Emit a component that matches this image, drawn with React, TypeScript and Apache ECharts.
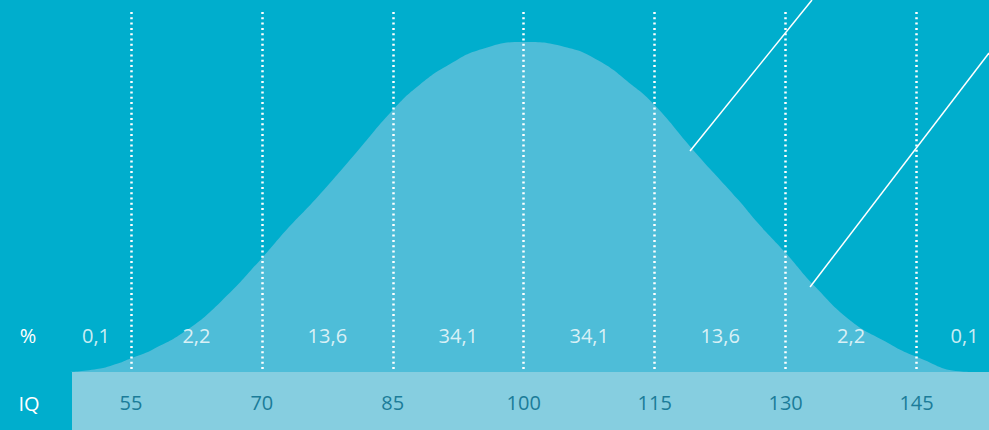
import React, { useEffect, useRef } from "react";
import * as echarts from "echarts";

// IQ scale ticks (dotted guide lines + labels in the strip)
const iqTicks = [55, 70, 85, 100, 115, 130, 145];

// Percentage row
const pctLabels = ["0,1", "2,2", "13,6", "34,1", "34,1", "13,6", "2,2", "0,1"];
const pctPositions = [51, 62.5, 77.5, 92.5, 107.5, 122.5, 137.5, 150.5];
const pctRowLevel = 11;

// Bell curve: IQ vs relative height (peak = 100)
const curveIQ = [
  47.9, 51.1, 53.5, 55, 57.4, 61.4, 65.3, 70, 72.8, 76.4, 80.4, 85, 88.05,
  91.65, 95.25, 100, 104.6, 108.5, 112.4, 115, 119.6, 124.6, 126.8, 130, 133.4,
  137.6, 141.1, 145, 150.4, 152,
];
const curveHeight = [
  0, 0.9, 2.6, 4.2, 6.7, 12.7, 21.3, 34.5, 43.0, 53.1, 65.2, 79.4, 87.0, 93.5,
  97.9, 100, 98.6, 94.5, 87.0, 80.9, 66.7, 52.1, 45.2, 36.1, 25.8, 15.2, 9.7,
  4.6, 0.1, 0,
];

// Top of the dotted guide lines
const guideTop = 109.1;

// Decorative diagonal lines (start / end in IQ and height units)
const diag1IQ = [119.05, 133.02];
const diag1Height = [66.97, 112.73];
const diag2IQ = [132.8, 153.3];
const diag2Height = [25.76, 96.67];

const X_MIN = 40;
const X_MAX = 153.3;
const Y_MAX = 112.73;

const BG = "#00AECD";
const CURVE = "#4EBDD8";
const STRIP = "#86CEE0";
const TICK_TEXT = "#1B7C99";
const FONT = "'Open Sans', 'Noto Sans', sans-serif";

export default function App() {
  const ref = useRef<HTMLDivElement>(null);

  useEffect(() => {
    if (!ref.current) return;
    const chart = echarts.init(ref.current, undefined, { renderer: "svg" });

    const curveData = curveIQ.map((x, i) => [x, curveHeight[i]]);
    const pctData = pctPositions.map((x) => [x, pctRowLevel]);

    chart.setOption({
      animation: false,
      backgroundColor: BG,
      grid: { left: 0, right: 0, top: 0, bottom: 58, containLabel: false },
      xAxis: {
        type: "value",
        min: X_MIN,
        max: X_MAX,
        z: 5,
        axisLine: { show: false },
        axisTick: { show: false },
        splitLine: { show: false },
        axisLabel: {
          customValues: iqTicks,
          color: TICK_TEXT,
          fontSize: 20,
          fontFamily: FONT,
          verticalAlign: "middle",
          margin: 30,
          showMinLabel: true,
          showMaxLabel: true,
        },
      },
      yAxis: {
        type: "value",
        min: 0,
        max: Y_MAX,
        show: false,
      },
      graphic: [
        {
          type: "rect",
          left: 72,
          top: 372,
          z: -10,
          shape: { width: 917, height: 58 },
          style: { fill: STRIP },
          silent: true,
        },
        {
          type: "text",
          x: 29,
          y: 403,
          z: 10,
          style: {
            text: "IQ",
            fill: "#ffffff",
            font: `20px ${FONT}`,
            align: "center",
            verticalAlign: "middle",
          },
        },
        {
          type: "text",
          x: 28,
          y: 335.5,
          z: 10,
          style: {
            text: "%",
            fill: "#ffffff",
            font: `20px ${FONT}`,
            align: "center",
            verticalAlign: "middle",
          },
        },
      ],
      series: [
        {
          type: "line",
          data: curveData,
          smooth: 0.5,
          showSymbol: false,
          lineStyle: { width: 0 },
          areaStyle: { color: CURVE, opacity: 1 },
          silent: true,
          z: 1,
        },
        {
          type: "line",
          data: diag1IQ.map((x, i) => [x, diag1Height[i]]),
          showSymbol: false,
          lineStyle: { color: "#ffffff", width: 1.5 },
          silent: true,
          z: 2,
        },
        {
          type: "line",
          data: diag2IQ.map((x, i) => [x, diag2Height[i]]),
          showSymbol: false,
          lineStyle: { color: "#ffffff", width: 1.5 },
          silent: true,
          z: 2,
        },
        {
          type: "scatter",
          data: pctData,
          symbolSize: 0,
          silent: true,
          z: 4,
          label: {
            show: true,
            position: "inside",
            color: "#ffffff",
            fontSize: 20,
            fontFamily: FONT,
            formatter: (p: any) => pctLabels[p.dataIndex],
          },
          markLine: {
            silent: true,
            symbol: "none",
            label: { show: false },
            lineStyle: { color: "#ffffff", width: 2.5, type: [2, 3.3], cap: "butt" },
            data: iqTicks.map((v) => [
              { coord: [v, guideTop] },
              { coord: [v, 0] },
            ]),
          },
        },
      ],
    });

    return () => chart.dispose();
  }, []);

  return (
    <div
      ref={ref}
      style={{ position: "fixed", left: 0, top: 0, width: 989, height: 430 }}
    />
  );
}
